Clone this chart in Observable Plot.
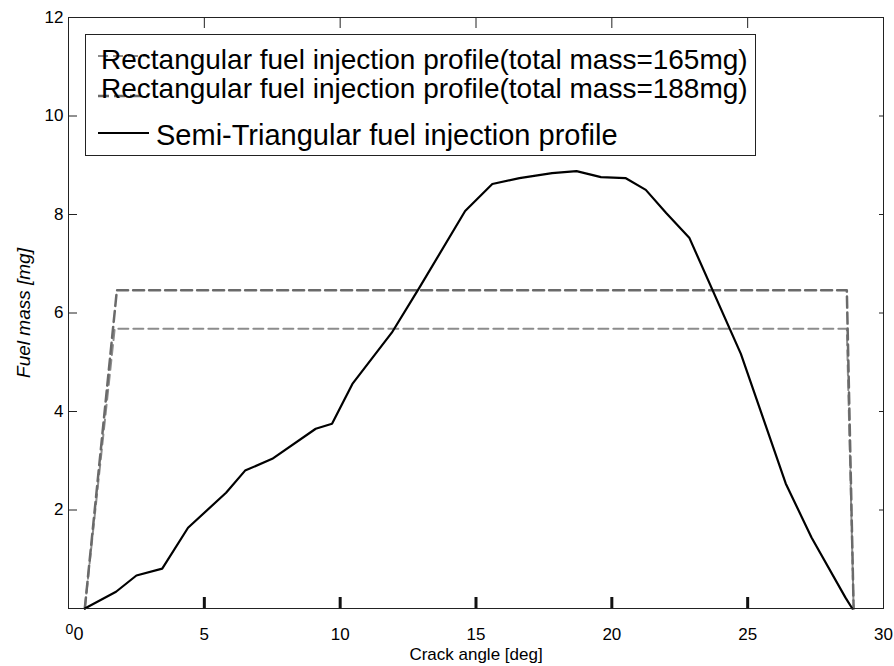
<!DOCTYPE html>
<html>
<head>
<meta charset="utf-8">
<script src="https://cdn.jsdelivr.net/npm/d3@7"></script>
<script src="https://cdn.jsdelivr.net/npm/@observablehq/plot@0.6"></script>
<style>
  body { margin: 0; background: white; }
  #wrap { position: relative; width: 894px; height: 666px; }
  #legend { position: absolute; left: 85px; top: 34px; width: 671px; height: 122px;
            box-sizing: border-box; border: 1px solid #222; background: white; }
</style>
</head>
<body>
<div id="wrap"><div id="legend"></div></div>
<script>
// ---- data ----
const xTicks = [5, 10, 15, 20, 25, 30];
const yTicks = [2, 4, 6, 8, 10, 12];

const rect165X = [0.6, 1.7, 28.65, 28.9];
const rect165Y = [0, 5.68, 5.68, 0];

const rect188X = [0.6, 1.78, 28.65, 28.9];
const rect188Y = [0, 6.46, 6.46, 0];

const semiX = [0.6, 1.75, 2.5, 3.45, 4.4, 5.8, 6.5, 7.5, 9.1, 9.7, 10.45, 11.9, 12.9, 14.6, 15.6, 16.6, 17.8, 18.7, 19.6, 20.5, 21.25, 22.0, 22.85, 24.75, 26.4, 27.35, 28.6, 28.85];
const semiY = [0, 0.34, 0.67, 0.81, 1.64, 2.35, 2.8, 3.04, 3.65, 3.75, 4.56, 5.6, 6.5, 8.07, 8.62, 8.74, 8.84, 8.88, 8.76, 8.74, 8.5, 8.03, 7.53, 5.17, 2.54, 1.44, 0.22, 0];

const legendLabels = [
  "Rectangular fuel injection profile(total mass=165mg)",
  "Rectangular fuel injection profile(total mass=188mg)",
  "Semi-Triangular fuel injection profile"
];
const seriesColors = ["#8c8c8c", "#6a6a6a", "#000000"];
const seriesDash = ["10,5", "11,5", null];
const seriesWidth = [2, 2.5, 2.2];

const xLabel = "Crack angle [deg]";
const yLabel = "Fuel mass [mg]";

// ---- build ----
const toRows = (xs, ys) => xs.map((x, i) => ({x, y: ys[i]}));
const r165 = toRows(rect165X, rect165Y);
const r188 = toRows(rect188X, rect188Y);
const semi = toRows(semiX, semiY);

const W = 894, H = 666, mL = 68, mR = 11, mT = 17, mB = 58;
const fw = W - mL - mR, fh = H - mT - mB;
const font = "'Liberation Sans', Arial, sans-serif";

const chart = Plot.plot({
  width: W, height: H,
  marginLeft: mL, marginRight: mR, marginTop: mT, marginBottom: mB,
  x: {domain: [0, 30]},
  y: {domain: [0, 12]},
  style: {fontFamily: font, fontSize: "17px", color: "black", background: "white", overflow: "visible"},
  marks: [
    Plot.line(r165, {x: "x", y: "y", stroke: seriesColors[0], strokeWidth: seriesWidth[0], strokeDasharray: seriesDash[0]}),
    Plot.line(r188, {x: "x", y: "y", stroke: seriesColors[1], strokeWidth: seriesWidth[1], strokeDasharray: seriesDash[1]}),
    Plot.line(semi, {x: "x", y: "y", stroke: seriesColors[2], strokeWidth: seriesWidth[2]}),
    Plot.frame({stroke: "#222", strokeWidth: 1}),
    // bottom bold inward ticks
    Plot.tickX(xTicks.slice(0, 5), {x: d => d, insetTop: fh - 11, stroke: "#111", strokeWidth: 3}),
    // top thin inward ticks
    Plot.tickX(xTicks.slice(0, 5), {x: d => d, insetBottom: fh - 11, stroke: "#222", strokeWidth: 1}),
    // left inward ticks
    Plot.tickY(yTicks, {y: d => d, insetRight: fw - 9, stroke: "#222", strokeWidth: 1}),
    // right inward ticks
    Plot.tickY([0].concat(yTicks.slice(0, 5)), {y: d => d, insetLeft: fw - 4, stroke: "#222", strokeWidth: 1}),
    Plot.axisX(xTicks, {tickSize: 0, tickPadding: 19, label: null, fontSize: 17}),
    Plot.axisY(yTicks, {tickSize: 0, tickPadding: 5, label: null, fontSize: 17}),
    // the doubled zero label at origin
    Plot.text([0], {x: d => d, text: () => "0", frameAnchor: "bottom", lineAnchor: "middle", dy: 26, dx: 10, fontSize: 18}),
    Plot.text([0], {x: d => d, text: () => "0", frameAnchor: "bottom", lineAnchor: "middle", dy: 21, dx: 1, fontSize: 14}),
    Plot.text([xLabel], {text: d => d, frameAnchor: "bottom", lineAnchor: "middle", textAnchor: "middle", dy: 46, fontSize: 17}),
    Plot.text([yLabel], {text: d => d, frameAnchor: "left", lineAnchor: "middle", textAnchor: "middle", dx: -45, rotate: -90, fontSize: 19, fontStyle: "italic"})
  ]
});

document.getElementById("wrap").prepend(chart);

// ---- legend ----
const lg = d3.select("#legend").append("svg")
  .attr("width", 669).attr("height", 120)
  .style("position", "absolute").style("left", 0).style("top", 0)
  .style("font-family", font);
const sampleY = [21, 61, 98];
const textX = [15, 15, 70];
const textY = [34, 63, 110];
const textSize = [28, 28, 29];
legendLabels.forEach((lab, i) => {
  lg.append("line").attr("x1", 12).attr("x2", 63).attr("y1", sampleY[i]).attr("y2", sampleY[i])
    .attr("stroke", seriesColors[i]).attr("stroke-width", seriesWidth[i])
    .attr("stroke-dasharray", seriesDash[i]);
  lg.append("text").attr("x", textX[i]).attr("y", textY[i])
    .attr("font-size", textSize[i]).attr("fill", "black").text(lab);
});
</script>
</body>
</html>
